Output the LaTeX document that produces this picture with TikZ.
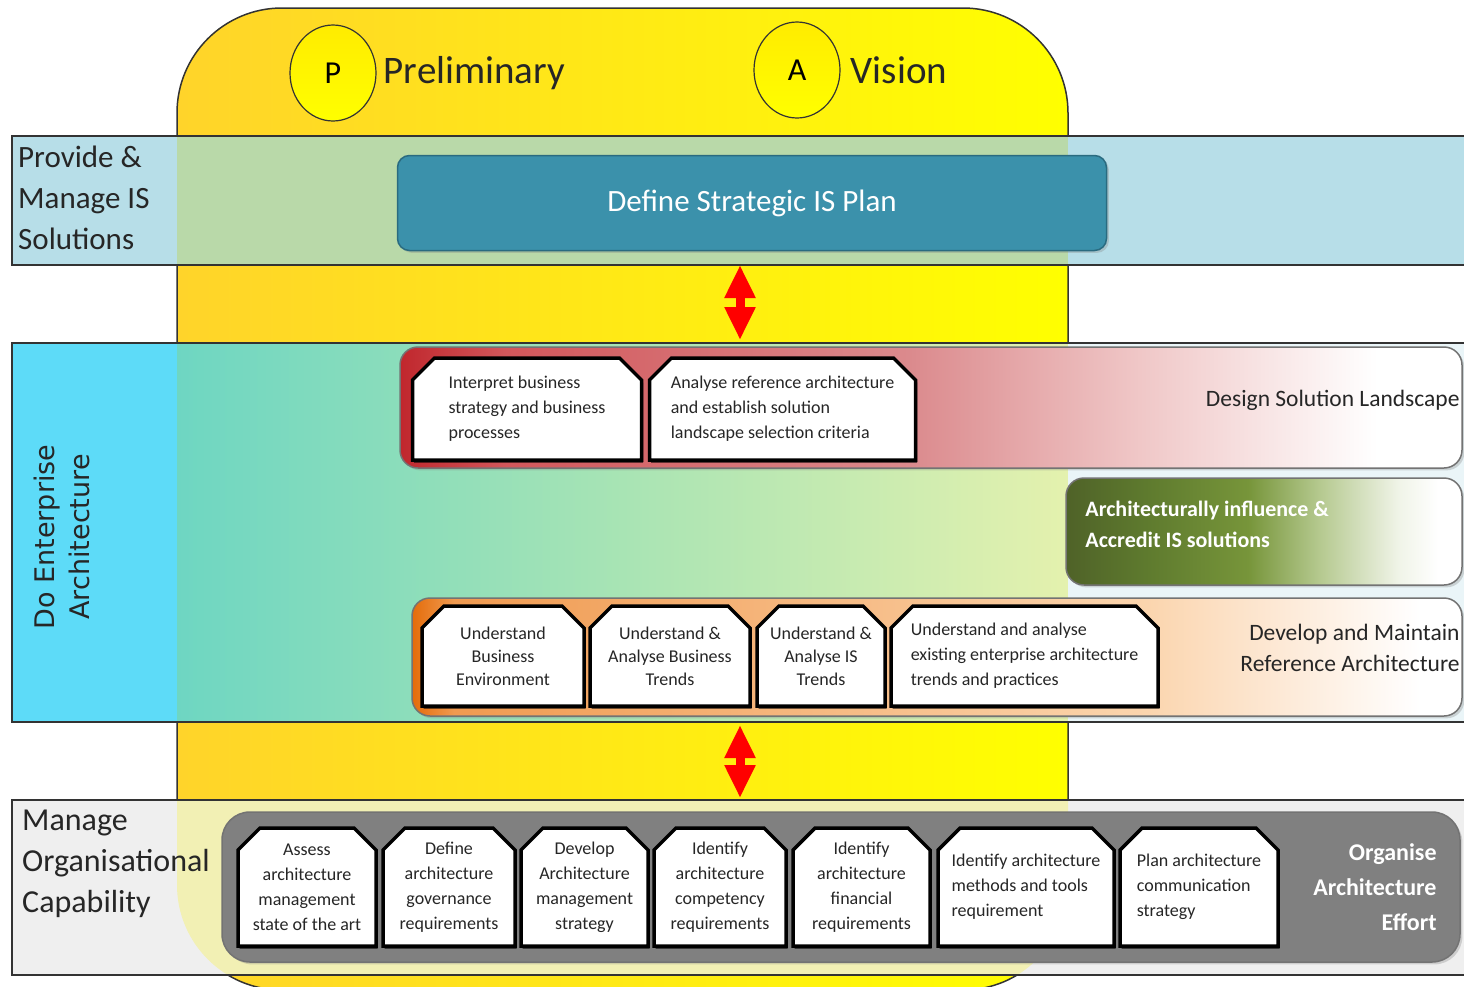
\documentclass[tikz,border=0pt]{standalone}
\usepackage{fontspec}
\setmainfont{Carlito}
\newfontfamily\deafont{DejaVu Sans}
\usetikzlibrary{positioning,shapes.geometric,shapes.misc,arrows.meta,shadows}

\definecolor{phaseL}{HTML}{FFD42A}
\definecolor{phaseR}{HTML}{FFFF00}
\definecolor{provBand}{HTML}{B7DEE8}
\definecolor{provMix}{HTML}{B9D9A9}
\definecolor{deaBand}{HTML}{5DDBF8}
\definecolor{deaMixL}{HTML}{6ED6C2}
\definecolor{deaMixM}{HTML}{A8E4B4}
\definecolor{deaMixR}{HTML}{E4F1AE}
\definecolor{deaRest}{HTML}{EAF5F8}
\definecolor{orgBand}{HTML}{EFEFEF}
\definecolor{orgMix}{HTML}{F2F0B4}
\definecolor{planTeal}{HTML}{3B91AB}
\definecolor{planEdge}{HTML}{2A6B80}
\definecolor{effortGray}{HTML}{808080}
\definecolor{inkGray}{HTML}{262626}
% colour stops of the stage shadings
\definecolor{rfA}{HTML}{C0272D}
\definecolor{rfB}{HTML}{D2575B}
\definecolor{rfC}{HTML}{DB8A8D}
\definecolor{rfD}{HTML}{F0C8C8}
\definecolor{ofA}{HTML}{E46C0A}
\definecolor{ofB}{HTML}{F09A50}
\definecolor{ofC}{HTML}{FBD5AE}
\definecolor{ofD}{HTML}{FDEBDA}
\definecolor{gfA}{HTML}{4F6228}
\definecolor{gfB}{HTML}{5E7A2E}
\definecolor{gfC}{HTML}{77953A}
\definecolor{gfD}{HTML}{B5C98F}
\definecolor{gfE}{HTML}{F0F4E8}

\pgfdeclarehorizontalshading{redfade}{100bp}{color(0bp)=(rfA); color(25bp)=(rfA);
  color(30bp)=(rfB); color(49bp)=(rfC); color(60bp)=(rfD); color(71bp)=(white); color(100bp)=(white)}
\pgfdeclarehorizontalshading{orangefade}{100bp}{color(0bp)=(ofA); color(25bp)=(ofA);
  color(27bp)=(ofB); color(60bp)=(ofC); color(67bp)=(ofD); color(73bp)=(white); color(100bp)=(white)}
\pgfdeclarehorizontalshading{greenfade}{100bp}{color(0bp)=(gfA); color(25bp)=(gfA);
  color(35bp)=(gfB); color(48bp)=(gfC); color(57bp)=(gfD); color(67bp)=(gfE); color(72bp)=(white); color(100bp)=(white)}

\newcommand{\phaseoutline}{(177,990) -- (177,8) -- (1068,8) -- (1068,990) -- cycle}

\tikzset{
  band/.style={draw=black!80, line width=1.5pt},
  bandlabel/.style={anchor=west, align=left, inner sep=0pt, text=inkGray},
  phase/.style={ellipse, draw=black!80, line width=1.2pt, top color=yellow!85!orange, bottom color=yellow,
    minimum width=86pt, minimum height=96pt, inner sep=0pt, font=\fontsize{32}{36}\selectfont},
  phasename/.style={inner sep=0pt, text=inkGray, font=\fontsize{39}{44}\selectfont},
  plan/.style={rounded corners=12pt, fill=planTeal, draw=planEdge, line width=1.5pt, drop shadow={opacity=0.3},
    minimum width=709pt, minimum height=95pt, text=white, font=\fontsize{31}{34}\selectfont},
  link/.style={draw=red, line width=9pt, {Triangle[length=33pt,width=29pt]}-{Triangle[length=33pt,width=29pt]}},
  stage/.style={rounded corners=18pt, draw=black!55, line width=1.5pt, drop shadow={opacity=0.3}},
  stagelabel/.style={inner sep=0pt, text=inkGray, font=\fontsize{23.5}{31}\selectfont},
  task/.style={chamfered rectangle, chamfered rectangle corners={north west, north east},
    chamfered rectangle sep=11pt, draw=black, line width=3.5pt, fill=white, inner sep=2pt, outer sep=0pt,
    drop shadow={shadow xshift=1.5pt, shadow yshift=-2.5pt, opacity=0.85, fill=black},
    text=inkGray, font=\fontsize{18}{25}\selectfont}
}

\begin{document}
\begin{tikzpicture}[x=1pt,y=-1pt]
  \clip (0,0) rectangle (1464,986);
  \fill[white] (0,0) rectangle (1464,986);

  % phase column
  \path[draw=black!80, line width=1.5pt, left color=phaseL, right color=phaseR, rounded corners=105pt] \phaseoutline;

  % swim lanes
  \fill[provBand] (12,136) rectangle (1470,265);
  \fill[provMix] (177,136) rectangle (1068,265);
  \draw[band] (12,136) rectangle (1470,265);

  \fill[deaBand] (12,343) rectangle (177,722);
  \fill[left color=deaMixL, right color=deaMixR, middle color=deaMixM] (177,343) rectangle (1068,722);
  \fill[deaRest] (1068,343) rectangle (1470,722);
  \draw[band] (12,343) rectangle (1470,722);

  \fill[orgBand] (12,800) rectangle (1470,975);
  \begin{scope}
    \clip[rounded corners=105pt] \phaseoutline;
    \fill[orgMix] (12,800) rectangle (1470,975);
  \end{scope}
  \draw[band] (12,800) rectangle (1470,975);

  \node[bandlabel, font=\fontsize{31}{41}\selectfont] (prov) at (18,198) {Provide \&\\Manage IS\\Solutions};
  \node[rotate=90, align=center, inner sep=0pt, text=inkGray, font=\deafont\fontsize{27}{35}\selectfont] (dea) at (62,537) {Do Enterprise\\Architecture};
  \node[bandlabel, font=\fontsize{32}{41}\selectfont] (org) at (22,864) {Manage\\Organisational\\Capability};

  % phases
  \node[phase] (pp) at (333,73) {P};
  \node[phasename, right=7pt of pp] (pre) {Preliminary};
  \node[phase] (pa) at (797,70) {A};
  \node[phasename, right=10pt of pa] (vis) {Vision};

  \node[plan] (dsp) at (752,203) {Define Strategic IS Plan};

  \coordinate (up1) at (740,265);
  \coordinate (dn1) at (740,340);
  \coordinate (up2) at (740,725);
  \coordinate (dn2) at (740,798);
  \draw[link] (up1) -- (dn1);
  \draw[link] (up2) -- (dn2);

  % Design Solution Landscape
  \node[stage, shading=redfade, minimum width=1062pt, minimum height=121pt] (dsl) at (931,407.5) {};
  \node[stagelabel, anchor=east] (dsltxt) at ([xshift=-3pt, yshift=7pt]dsl.east) {Design Solution Landscape};
  \node[task, minimum width=229pt, minimum height=102pt, align=left] (ibs) at (527,409) {Interpret business\\strategy and business\\processes};
  \node[task, minimum width=266pt, minimum height=102pt, align=left, right=8pt of ibs] (ars) {Analyse reference architecture\\and establish solution\\landscape selection criteria};

  % Architecturally influence
  \node[stage, shading=greenfade, minimum width=396pt, minimum height=107pt] (ais) at (1264,531.5) {};
  \node[anchor=west, align=left, inner sep=0pt, text=white, font=\bfseries\fontsize{22}{31}\selectfont] (aistxt) at ([xshift=20pt, yshift=7pt]ais.west) {Architecturally influence \&\\Accredit IS solutions};

  % Develop and Maintain Reference Architecture
  \node[stage, shading=orangefade, minimum width=1050pt, minimum height=118pt] (dmr) at (937,657) {};
  \node[stagelabel, anchor=east, align=right] (dmrtxt) at ([xshift=-3pt, yshift=9pt]dmr.east) {Develop and Maintain\\Reference Architecture};
  \node[task, minimum width=162pt, minimum height=100pt, align=center, font=\fontsize{18}{23}\selectfont] (ube) at (503,656) {Understand\\Business\\Environment};
  \node[task, minimum width=160pt, minimum height=100pt, align=center, font=\fontsize{18}{23}\selectfont, right=6pt of ube] (ubt) {Understand \&\\Analyse Business\\Trends};
  \node[task, minimum width=128pt, minimum height=100pt, align=center, font=\fontsize{18}{23}\selectfont, right=7pt of ubt] (uit) {Understand \&\\Analyse IS\\Trends};
  \node[task, minimum width=267pt, minimum height=100pt, align=left, right=6pt of uit] (uea) {Understand and analyse\\existing enterprise architecture\\trends and practices};

  % Organise Architecture Effort
  \node[stage, rounded corners=28pt, fill=effortGray, minimum width=1238pt, minimum height=150pt] (oae) at (841,887) {};
  \node[anchor=east, align=right, inner sep=0pt, text=white, font=\bfseries\fontsize{24}{35}\selectfont] (oaetxt) at ([xshift=-24pt]oae.east) {Organise\\Architecture\\Effort};
  \node[task, minimum width=138pt, minimum height=118pt, align=center] (asa) at (307,887) {Assess\\architecture\\management\\state of the art};
  \node[task, minimum width=132pt, minimum height=118pt, align=center, right=7pt of asa] (dag) {Define\\architecture\\governance\\requirements};
  \node[task, minimum width=127pt, minimum height=118pt, align=center, right=6pt of dag] (dams) {Develop\\Architecture\\management\\strategy};
  \node[task, minimum width=132pt, minimum height=118pt, align=center, right=6pt of dams] (iac) {Identify\\architecture\\competency\\requirements};
  \node[task, minimum width=137pt, minimum height=118pt, align=center, right=7pt of iac] (iaf) {Identify\\architecture\\financial\\requirements};
  \node[task, minimum width=176pt, minimum height=118pt, align=left, right=8pt of iaf] (iam) {Identify architecture\\methods and tools\\requirement};
  \node[task, minimum width=158pt, minimum height=118pt, align=left, right=6pt of iam] (pac) {Plan architecture\\communication\\strategy};
\end{tikzpicture}
\end{document}
